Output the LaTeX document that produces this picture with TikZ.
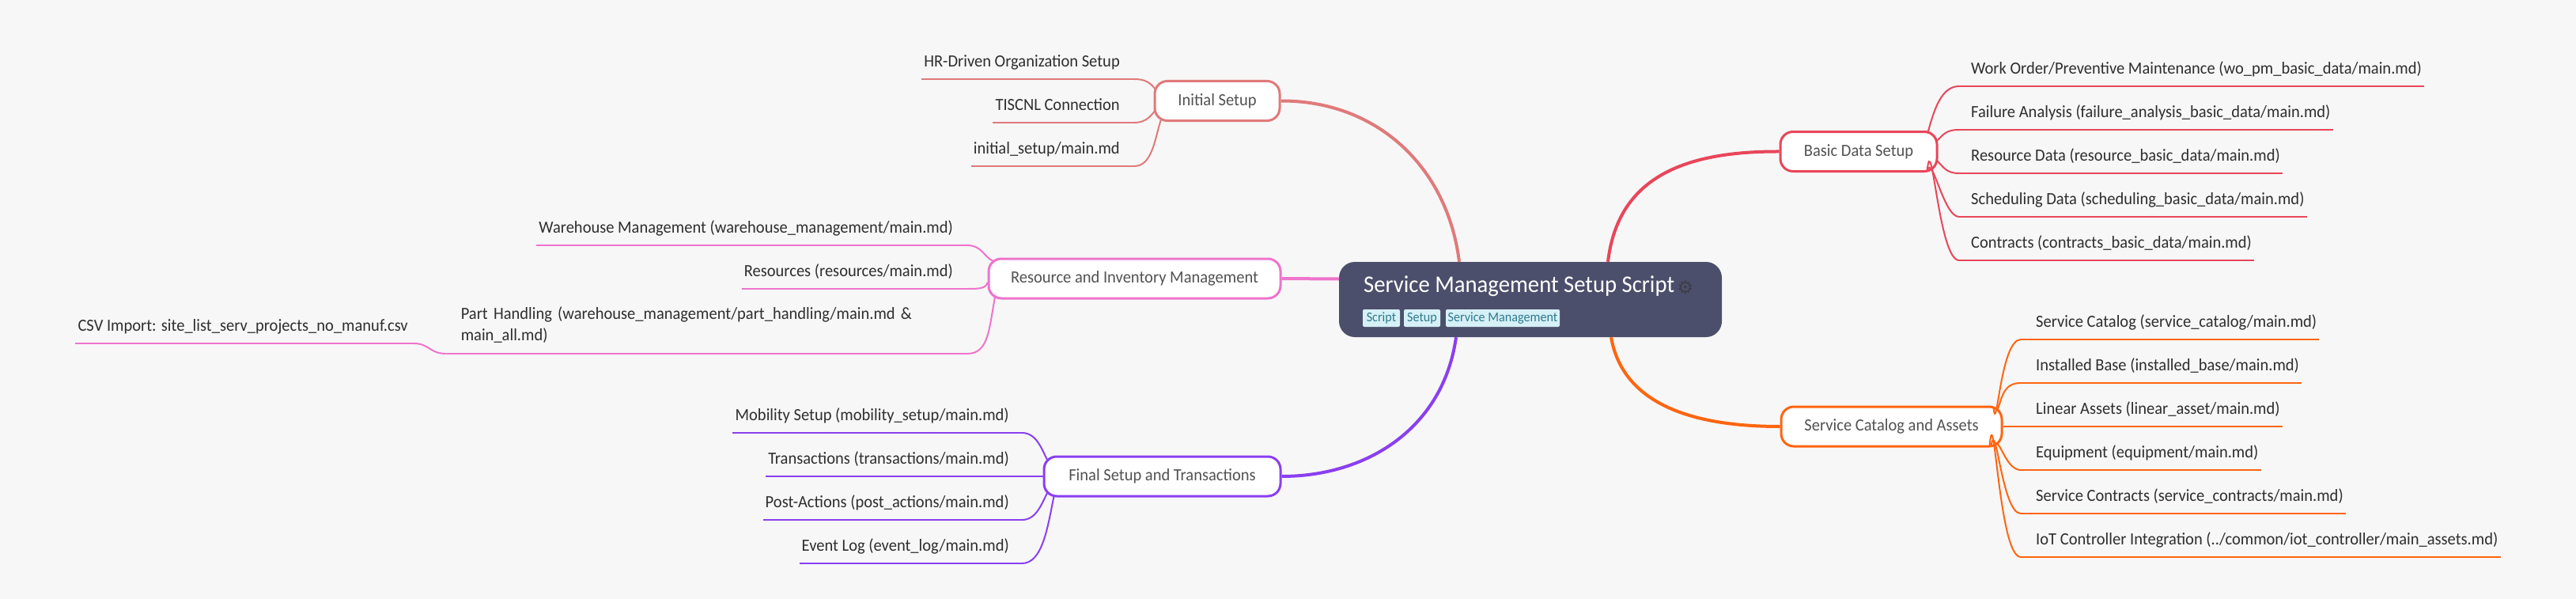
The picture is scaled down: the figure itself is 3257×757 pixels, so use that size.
\documentclass[tikz,border=0pt]{standalone}
\usepackage{fontspec}
\setmainfont[FakeStretch=0.95]{Carlito}
\newfontfamily\gearFont{DejaVu Sans}
\definecolor{pageColor}{HTML}{F7F7F7}
\definecolor{rootColor}{HTML}{4C4F6B}
\definecolor{tagColor}{HTML}{D6F0F7}
\definecolor{tagText}{HTML}{2E7A8E}
\definecolor{gearColor}{HTML}{3E3E46}
\definecolor{initColor}{HTML}{E07A7A}
\definecolor{resColor}{HTML}{EE74CC}
\definecolor{finalColor}{HTML}{8A3FF0}
\definecolor{basicColor}{HTML}{E8465A}
\definecolor{catColor}{HTML}{FF6510}
\begin{document}
\begin{tikzpicture}[x=1pt, y=-1pt,
    rootStyle/.style={rectangle, fill=rootColor, rounded corners=20pt, minimum width=484pt, minimum height=95pt},
    tagStyle/.style={rectangle, fill=tagColor, text=tagText, rounded corners=2pt, inner xsep=0pt, inner ysep=0pt, minimum height=22pt, font=\fontsize{17}{18}\selectfont},
    branchStyle/.style={rectangle, draw, fill=white, line width=3pt, rounded corners=16pt, minimum height=50pt, text=black!68, font=\fontsize{21.6}{27}\selectfont},
    leafStyle/.style={rectangle, inner xsep=3pt, inner ysep=0pt, text height=18pt, text depth=15pt, text=black!82, font=\fontsize{21.6}{27}\selectfont},
    thickEdge/.style={line width=4pt},
    thinEdge/.style={line width=2pt},
    ruleEdge/.style={line width=2.6pt}]
    \useasboundingbox[fill=pageColor] (0,0) rectangle (3257,757);

    % centre
    \node[rootStyle] (root) at (1935,378.5) {};
    \node[anchor=base west, inner sep=0pt, text=white, font=\fontsize{30.2}{34}\selectfont] (root_title) at (1724,369) {Service Management Setup Script};
    \node[text=gearColor, inner sep=0pt, font=\gearFont\fontsize{23}{23}\selectfont] (root_gear) at (2131,363) {⚙};
    \node[tagStyle, minimum width=47pt] (root_tag0) at (1746.5,402) {Script};
    \node[tagStyle, minimum width=46pt] (root_tag1) at (1798,402) {Setup};
    \node[tagStyle, minimum width=144pt] (root_tag2) at (1900,402) {Service Management};

    % branches
    \node[branchStyle, draw=initColor, minimum width=158pt] (initial) at (1539,127.5) {Initial Setup};
    \node[branchStyle, draw=resColor, minimum width=369pt] (resource) at (1434.5,352) {Resource and Inventory Management};
    \node[branchStyle, draw=finalColor, minimum width=299pt] (final) at (1469.5,602) {Final Setup and Transactions};
    \node[branchStyle, draw=basicColor, minimum width=198pt] (basic) at (2350,191.5) {Basic Data Setup};
    \node[branchStyle, draw=catColor, minimum width=279pt] (catalog) at (2391.5,539) {Service Catalog and Assets};

    \draw[thickEdge, initColor] (initial.east) .. controls (1740,127) and (1830,210) .. ([xshift=-90pt]root.north);
    \draw[thickEdge, resColor] (resource.east) -- ([yshift=26pt]root.west);
    \draw[thickEdge, finalColor] (final.east) .. controls (1730,602) and (1825,540) .. ([xshift=-94pt]root.south);
    \draw[thickEdge, basicColor] (basic.west) .. controls (2120,191) and (2045,230) .. ([xshift=98pt]root.north);
    \draw[thickEdge, catColor] (catalog.west) .. controls (2120,539) and (2050,500) .. ([xshift=102pt]root.south);

    % left leaves
    \node[leafStyle, anchor=south east] (initial_0) at (1419,100) {HR-Driven Organization Setup};
    \node[leafStyle, anchor=south east] (initial_1) at (1419,155) {TISCNL Connection};
    \node[leafStyle, anchor=south east] (initial_2) at (1419,210) {initial\_setup/main.md};

    \node[leafStyle, anchor=south east] (resource_0) at (1208,310) {Warehouse Management (warehouse\_management/main.md)};
    \node[leafStyle, anchor=south east] (resource_1) at (1208,365) {Resources (resources/main.md)};
    \node[leafStyle, anchor=south east, text width=622pt, align=left, text depth=43pt] (resource_2) at (1208,447) {Part Handling (warehouse\_management/part\_handling/main.md \&\\main\_all.md)};
    \node[leafStyle, anchor=south east] (resource_3) at (519,434) {CSV Import: site\_list\_serv\_projects\_no\_manuf.csv};

    \node[leafStyle, anchor=south east] (final_0) at (1279,547) {Mobility Setup (mobility\_setup/main.md)};
    \node[leafStyle, anchor=south east] (final_1) at (1279,602) {Transactions (transactions/main.md)};
    \node[leafStyle, anchor=south east] (final_2) at (1279,657) {Post-Actions (post\_actions/main.md)};
    \node[leafStyle, anchor=south east] (final_3) at (1279,712) {Event Log (event\_log/main.md)};

    % right leaves
    \node[leafStyle, anchor=south west] (basic_0) at (2489,109) {Work Order/Preventive Maintenance (wo\_pm\_basic\_data/main.md)};
    \node[leafStyle, anchor=south west] (basic_1) at (2489,164) {Failure Analysis (failure\_analysis\_basic\_data/main.md)};
    \node[leafStyle, anchor=south west] (basic_2) at (2489,219) {Resource Data (resource\_basic\_data/main.md)};
    \node[leafStyle, anchor=south west] (basic_3) at (2489,274) {Scheduling Data (scheduling\_basic\_data/main.md)};
    \node[leafStyle, anchor=south west] (basic_4) at (2489,329) {Contracts (contracts\_basic\_data/main.md)};

    \node[leafStyle, anchor=south west] (catalog_0) at (2571,429) {Service Catalog (service\_catalog/main.md)};
    \node[leafStyle, anchor=south west] (catalog_1) at (2571,484) {Installed Base (installed\_base/main.md)};
    \node[leafStyle, anchor=south west] (catalog_2) at (2571,539) {Linear Assets (linear\_asset/main.md)};
    \node[leafStyle, anchor=south west] (catalog_3) at (2571,594) {Equipment (equipment/main.md)};
    \node[leafStyle, anchor=south west] (catalog_4) at (2571,649) {Service Contracts (service\_contracts/main.md)};
    \node[leafStyle, anchor=south west] (catalog_5) at (2571,704) {IoT Controller Integration (../common/iot\_controller/main\_assets.md)};

    % rules under the leaves
    \draw[ruleEdge, initColor] (initial_0.south west) -- (initial_0.south east) -- ++(15,0);
    \draw[ruleEdge, initColor] (initial_1.south west) -- (initial_1.south east) -- ++(15,0);
    \draw[ruleEdge, initColor] (initial_2.south west) -- (initial_2.south east) -- ++(15,0);
    \draw[ruleEdge, resColor] (resource_0.south west) -- (resource_0.south east) -- ++(15,0);
    \draw[ruleEdge, resColor] (resource_1.south west) -- (resource_1.south east) -- ++(15,0);
    \draw[ruleEdge, resColor] ([xshift=-15pt]resource_2.south west) -- (resource_2.south east) -- ++(15,0);
    \draw[ruleEdge, resColor] (resource_3.south west) -- (resource_3.south east) -- ++(4,0);
    \draw[ruleEdge, finalColor] (final_0.south west) -- (final_0.south east) -- ++(13,0);
    \draw[ruleEdge, finalColor] (final_1.south west) -- (final.west);
    \draw[ruleEdge, finalColor] (final_2.south west) -- (final_2.south east) -- ++(13,0);
    \draw[ruleEdge, finalColor] (final_3.south west) -- (final_3.south east) -- ++(13,0);
    \draw[ruleEdge, basicColor] (basic_0.south east) -- (basic_0.south west) -- ++(-12,0);
    \draw[ruleEdge, basicColor] (basic_1.south east) -- (basic_1.south west) -- ++(-12,0);
    \draw[ruleEdge, basicColor] (basic_2.south east) -- (basic_2.south west) -- ++(-12,0);
    \draw[ruleEdge, basicColor] (basic_3.south east) -- (basic_3.south west) -- ++(-12,0);
    \draw[ruleEdge, basicColor] (basic_4.south east) -- (basic_4.south west) -- ++(-12,0);
    \draw[ruleEdge, catColor] (catalog_0.south east) -- (catalog_0.south west) -- ++(-16,0);
    \draw[ruleEdge, catColor] (catalog_1.south east) -- (catalog_1.south west) -- ++(-16,0);
    \draw[ruleEdge, catColor] (catalog_2.south east) -- (catalog.east);
    \draw[ruleEdge, catColor] (catalog_3.south east) -- (catalog_3.south west) -- ++(-16,0);
    \draw[ruleEdge, catColor] (catalog_4.south east) -- (catalog_4.south west) -- ++(-16,0);
    \draw[ruleEdge, catColor] (catalog_5.south east) -- (catalog_5.south west) -- ++(-16,0);

    % bends into the branches
    \draw[thinEdge, initColor] ([xshift=15pt]initial_0.south east) .. controls +(14,0) and +(-6,-8) .. ([yshift=15pt,xshift=2pt]initial.west);
    \draw[thinEdge, initColor] ([xshift=15pt]initial_1.south east) .. controls +(14,0) and +(-6,8) .. ([yshift=-12pt,xshift=2pt]initial.west);
    \draw[thinEdge, initColor] ([xshift=15pt]initial_2.south east) .. controls +(24,0) and +(-8,22) .. ([yshift=-22pt,xshift=10pt]initial.west);
    \draw[thinEdge, resColor] ([xshift=15pt]resource_0.south east) .. controls +(18,0) and +(-12,-6) .. ([yshift=22pt,xshift=7pt]resource.west);
    \draw[thinEdge, resColor] ([xshift=15pt]resource_1.south east) .. controls +(14,0) and +(-2,8) .. ([yshift=-5pt]resource.west);
    \draw[thinEdge, resColor] ([xshift=15pt]resource_2.south east) .. controls +(28,0) and +(-8,40) .. ([yshift=-21pt,xshift=10pt]resource.west);
    \draw[thinEdge, resColor] ([xshift=4pt]resource_3.south east) .. controls +(20,0) and +(-22,0) .. ([xshift=-15pt]resource_2.south west);
    \draw[thinEdge, finalColor] ([xshift=13pt]final_0.south east) .. controls +(18,0) and +(-8,-16) .. ([yshift=20pt,xshift=6pt]final.west);
    \draw[thinEdge, finalColor] ([xshift=13pt]final_2.south east) .. controls +(18,0) and +(-8,16) .. ([yshift=-20pt,xshift=6pt]final.west);
    \draw[thinEdge, finalColor] ([xshift=13pt]final_3.south east) .. controls +(26,0) and +(-8,40) .. ([yshift=-25pt,xshift=14pt]final.west);
    \draw[thinEdge, basicColor] ([xshift=-12pt]basic_0.south west) .. controls +(-22,0) and +(8,-30) .. ([yshift=24pt,xshift=-13pt]basic.east);
    \draw[thinEdge, basicColor] ([xshift=-12pt]basic_1.south west) .. controls +(-16,0) and +(8,-8) .. ([yshift=14pt,xshift=-1pt]basic.east);
    \draw[thinEdge, basicColor] ([xshift=-12pt]basic_2.south west) .. controls +(-16,0) and +(8,8) .. ([yshift=-12pt,xshift=-1pt]basic.east);
    \draw[thinEdge, basicColor] ([xshift=-12pt]basic_3.south west) .. controls +(-20,0) and +(6,-25) .. ([yshift=-25pt,xshift=-14pt]basic.east);
    \draw[thinEdge, basicColor] ([xshift=-12pt]basic_4.south west) .. controls +(-26,0) and +(6,-60) .. ([yshift=-25pt,xshift=-14pt]basic.east);
    \draw[thinEdge, catColor] ([xshift=-16pt]catalog_0.south west) .. controls +(-26,0) and +(4,40) .. ([yshift=24pt,xshift=-12pt]catalog.east);
    \draw[thinEdge, catColor] ([xshift=-16pt]catalog_1.south west) .. controls +(-22,0) and +(6,-16) .. ([yshift=21pt,xshift=-7pt]catalog.east);
    \draw[thinEdge, catColor] ([xshift=-16pt]catalog_3.south west) .. controls +(-20,0) and +(6,-14) .. ([yshift=-24pt,xshift=-11pt]catalog.east);
    \draw[thinEdge, catColor] ([xshift=-16pt]catalog_4.south west) .. controls +(-24,0) and +(6,-40) .. ([yshift=-25pt,xshift=-15pt]catalog.east);
    \draw[thinEdge, catColor] ([xshift=-16pt]catalog_5.south west) .. controls +(-28,0) and +(6,-70) .. ([yshift=-25pt,xshift=-17pt]catalog.east);
\end{tikzpicture}
\end{document}
